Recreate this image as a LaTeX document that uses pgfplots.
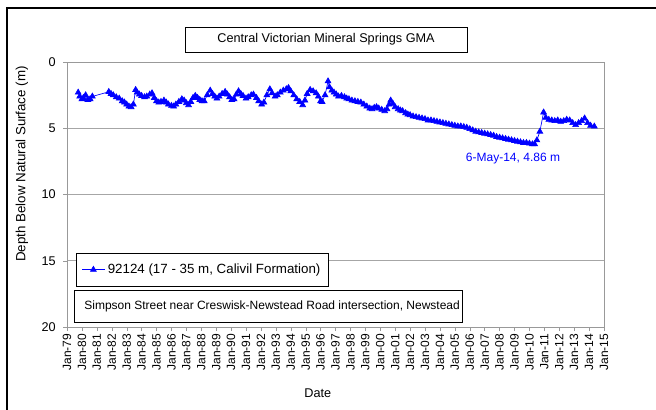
\documentclass[border=0pt]{standalone}
\usepackage{pgfplots}
\pgfplotsset{compat=1.18}
\usepackage{fontspec}
\setmainfont{Liberation Sans}
\def\px{0.75pt}
\pgfplotstableread{
x y
1979.75 2.3
1979.85 2.6
1980.0 2.8
1980.1 2.7
1980.25 2.5
1980.4 2.85
1980.55 2.8
1980.7 2.6
1981.8 2.25
1981.95 2.4
1982.1 2.5
1982.3 2.65
1982.5 2.75
1982.7 2.95
1982.85 3.05
1983.0 3.2
1983.15 3.35
1983.3 3.4
1983.45 3.2
1983.6 2.1
1983.7 2.3
1983.85 2.45
1984.0 2.55
1984.2 2.65
1984.35 2.6
1984.55 2.45
1984.7 2.35
1984.85 2.7
1985.0 2.95
1985.15 3.05
1985.3 3.0
1985.5 2.9
1985.65 3.05
1985.8 3.2
1986.0 3.3
1986.15 3.35
1986.3 3.2
1986.5 3.0
1986.7 2.8
1986.85 2.9
1987.0 3.1
1987.15 3.25
1987.3 3.0
1987.45 2.7
1987.6 2.55
1987.75 2.7
1987.9 2.85
1988.05 2.95
1988.2 2.95
1988.4 2.5
1988.6 2.15
1988.75 2.4
1988.9 2.6
1989.05 2.75
1989.2 2.6
1989.4 2.4
1989.6 2.25
1989.75 2.45
1989.9 2.65
1990.05 2.85
1990.2 2.8
1990.35 2.45
1990.5 2.2
1990.65 2.4
1990.8 2.55
1991.0 2.75
1991.15 2.65
1991.35 2.5
1991.5 2.45
1991.7 2.7
1991.85 2.95
1992.05 3.2
1992.2 3.05
1992.4 2.5
1992.6 2.05
1992.75 2.35
1992.95 2.6
1993.1 2.5
1993.3 2.3
1993.5 2.15
1993.7 2.05
1993.85 1.95
1994.0 2.2
1994.2 2.5
1994.4 2.8
1994.6 3.0
1994.8 3.25
1994.95 2.9
1995.1 2.4
1995.3 2.1
1995.5 2.2
1995.7 2.35
1995.85 2.6
1996.0 2.95
1996.1 3.0
1996.3 2.5
1996.5 1.45
1996.6 1.9
1996.75 2.15
1996.9 2.3
1997.05 2.45
1997.2 2.6
1997.4 2.55
1997.6 2.65
1997.75 2.75
1997.9 2.8
1998.1 2.9
1998.3 2.95
1998.5 3.0
1998.7 3.05
1998.9 3.2
1999.1 3.35
1999.3 3.5
1999.45 3.55
1999.6 3.45
1999.75 3.4
1999.9 3.5
2000.1 3.6
2000.3 3.7
2000.45 3.55
2000.6 3.2
2000.7 2.9
2000.85 3.15
2001.0 3.4
2001.2 3.55
2001.35 3.65
2001.5 3.7
2001.7 3.85
2001.85 3.95
2002.0 4.0
2002.2 4.1
2002.4 4.15
2002.6 4.2
2002.8 4.25
2003.0 4.3
2003.2 4.4
2003.4 4.4
2003.6 4.45
2003.8 4.5
2004.0 4.55
2004.2 4.6
2004.4 4.65
2004.6 4.7
2004.8 4.75
2005.0 4.8
2005.2 4.85
2005.4 4.85
2005.6 4.9
2005.8 4.95
2006.0 5.05
2006.2 5.15
2006.4 5.25
2006.6 5.3
2006.8 5.35
2007.0 5.4
2007.2 5.45
2007.4 5.5
2007.6 5.55
2007.8 5.65
2008.0 5.7
2008.2 5.75
2008.4 5.8
2008.6 5.85
2008.8 5.9
2009.0 5.95
2009.2 6.0
2009.4 6.05
2009.6 6.1
2009.8 6.1
2010.0 6.15
2010.2 6.2
2010.35 6.2
2010.5 5.9
2010.7 5.25
2010.95 3.8
2011.1 4.2
2011.3 4.35
2011.5 4.4
2011.7 4.45
2011.9 4.4
2012.1 4.5
2012.3 4.45
2012.5 4.35
2012.7 4.4
2012.9 4.6
2013.1 4.75
2013.3 4.6
2013.5 4.45
2013.7 4.25
2013.9 4.6
2014.1 4.8
2014.35 4.86
}\datatable
\begin{document}
\begin{tikzpicture}
\path[use as bounding box] (0,0) rectangle ({656*\px},{-410*\px});
\draw[line width=1.5pt] ({7*\px},{-410*\px}) -- ({7*\px},{-8*\px}) -- ({656*\px},{-8*\px});
\node[draw=black, line width=0.6pt, minimum width={282*\px}, minimum height={25*\px}, inner sep=0pt, font=\fontsize{9.5}{11}\selectfont] at ({326*\px},{-39.5*\px}) {Central Victorian Mineral Springs GMA};
\begin{axis}[
  at={({67*\px},{-327*\px})}, anchor=south west,
  scale only axis, width={537*\px}, height={265*\px},
  xmin=1979, xmax=2015, ymin=0, ymax=20, y dir=reverse,
  axis line style={draw=gray!80},
  xtick={1979,...,2015},
  xticklabels={Jan-79,Jan-80,Jan-81,Jan-82,Jan-83,Jan-84,Jan-85,Jan-86,Jan-87,Jan-88,Jan-89,Jan-90,Jan-91,Jan-92,Jan-93,Jan-94,Jan-95,Jan-96,Jan-97,Jan-98,Jan-99,Jan-00,Jan-01,Jan-02,Jan-03,Jan-04,Jan-05,Jan-06,Jan-07,Jan-08,Jan-09,Jan-10,Jan-11,Jan-12,Jan-13,Jan-14,Jan-15},
  x tick label style={rotate=90, anchor=east, font=\fontsize{9}{10}\selectfont, inner sep=2pt},
  ytick={0,5,10,15,20},
  y tick label style={font=\fontsize{9.5}{10}\selectfont, xshift=-2pt},
  /pgf/number format/assume math mode=true,
  tick align=outside, xtick pos=left, ytick pos=left,
  major tick length={4*\px},
  tick style={draw=gray!80},
  ymajorgrids, grid style={draw=gray!70, line width=0.5pt},
  xlabel={Date}, ylabel={Depth Below Natural Surface (m)},
  xlabel style={at={(rel axis cs:0.467,-0.249)}, anchor=center, font=\fontsize{9.5}{11}\selectfont},
  ylabel style={at={(rel axis cs:-0.0838,0.615)}, anchor=center, font=\fontsize{10}{11}\selectfont},
  legend style={at={(rel axis cs:0.0168,0.280)}, anchor=north west, draw=black, line width=0.5pt,
    font=\fontsize{10}{11}\selectfont, inner xsep=4pt, inner ysep=6pt},
  legend cell align=left,
]
\addplot[blue, line width=0.5pt, mark=triangle*, mark size=2.5pt, mark options={fill=blue}] table[x=x,y=y] {\datatable};
\addlegendentry{92124 (17 - 35 m, Calivil Formation)}
\node[blue, font=\fontsize{9}{11}\selectfont] at (axis cs:2008.9,7.32) {6-May-14, 4.86 m};
\node[draw=black, line width=0.6pt, inner sep=0pt, minimum height={31.5*\px}, anchor=north west, font=\fontsize{9}{10}\selectfont] at (rel axis cs:0.013,0.1396) {\makebox[291pt][l]{\hspace{7.5pt}Simpson Street near Creswisk-Newstead Road intersection, Newstead}};
\end{axis}
\end{tikzpicture}
\end{document}
